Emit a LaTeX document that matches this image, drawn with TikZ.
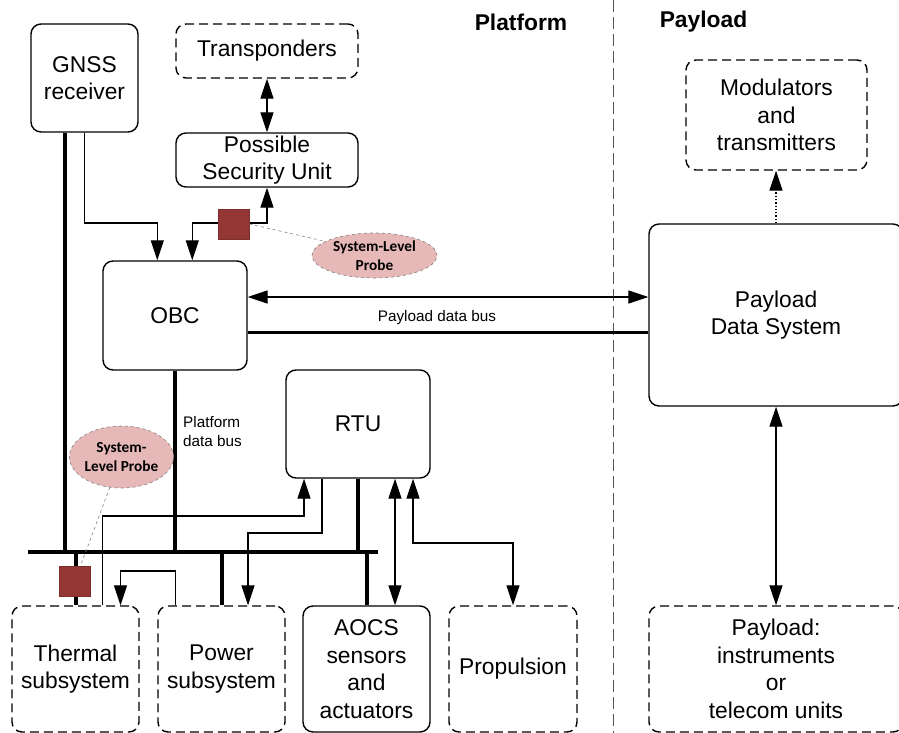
\documentclass[tikz,border=0pt]{standalone}
\usepackage{fontspec}
\setmainfont{Liberation Sans}
\newfontfamily\probefont{Carlito}
\usetikzlibrary{arrows.meta,shapes.geometric}

\definecolor{probefill}{HTML}{E6B9B8}
\definecolor{probered}{HTML}{943634}
\definecolor{divider}{HTML}{555555}

\newcommand{\bodyfont}{\fontsize{22.8}{27.5}\selectfont}
\newcommand{\smallfont}{\fontsize{15.3}{19}\selectfont}

\tikzset{
  unit/.style={draw, rounded corners=10pt, line width=1.4pt, align=center,
    inner sep=0pt, font=\bodyfont},
  optunit/.style={unit, dash pattern=on 9pt off 5pt},
  conn/.style={line width=1.3pt},
  arr/.style={conn, -{Triangle[length=20pt,width=13pt]}},
  darr/.style={conn, {Triangle[length=20pt,width=13pt]}-{Triangle[length=20pt,width=13pt]}},
  databus/.style={line width=4pt},
  probe/.style={ellipse, fill=probefill, draw=gray, dashed, line width=0.6pt,
    inner sep=0pt, align=center, font=\probefont\bfseries\smallfont},
  probelink/.style={draw=gray, dashed, line width=0.6pt},
  probebox/.style={rectangle, fill=probered, draw=probered!85!black, line width=0.6pt,
    minimum width=31pt, minimum height=30pt, inner sep=0pt},
  heading/.style={font=\bfseries\bodyfont},
  buslabel/.style={font=\smallfont, inner sep=0pt, align=left}
}

\begin{document}
\begin{tikzpicture}[x=1pt,y=-1pt]
\useasboundingbox (0,0) rectangle (899,733);
\clip (0,0) rectangle (899,733);

% platform / payload separation
\coordinate (divtop) at (613,0);
\coordinate (divbot) at (613,733);
\draw[divider, line width=0.9pt, dash pattern=on 12pt off 5pt] (divtop) -- (divbot);
\node[heading] (hplat) at (521,22) {Platform};
\node[heading] (hpay) at (703.5,22) {Payload};

% units
\node[unit, minimum width=107pt, minimum height=108pt] (gnss) at (84.5,78) {GNSS\\receiver};
\node[optunit, minimum width=182pt, minimum height=54pt] (trans) at (267,51) {Transponders};
\node[unit, minimum width=182pt, minimum height=54pt] (psu) at (267,160) {Possible\\Security Unit};
\node[unit, minimum width=144pt, minimum height=109pt] (obc) at (175,315.5) {OBC};
\node[unit, minimum width=144pt, minimum height=108pt] (rtu) at (358,424) {RTU};
\node[optunit, minimum width=181pt, minimum height=110pt] (mod) at (776.5,115) {Modulators\\and\\transmitters};
\node[unit, minimum width=254pt, minimum height=182pt] (pds) at (776,315) {Payload\\Data System};

\node[optunit, minimum width=127pt, minimum height=126pt] (therm) at (75.5,669) {Thermal\\subsystem};
\node[optunit, minimum width=127pt, minimum height=126pt] (power) at (221.5,669) {Power\\subsystem};
\node[unit, minimum width=127pt, minimum height=126pt] (aocs) at (366.5,669) {AOCS\\sensors\\and\\actuators};
\node[optunit, minimum width=128pt, minimum height=126pt] (prop) at (513,669) {Propulsion};
\node[optunit, minimum width=254pt, minimum height=126pt] (pl) at (776,669) {Payload:\\instruments\\or\\telecom units};

% levels of the routed connectors
\coordinate (lvobc) at (0,223);
\coordinate (lvth) at (0,516);
\coordinate (lvpw) at (0,533);
\coordinate (lvpr) at (0,543);
\coordinate (lvloop) at (0,571);

% transponders and security unit
\draw[darr] (trans.south) -- (psu.north);

% GNSS links
\coordinate (g1) at ([xshift=35pt]gnss.south west);
\coordinate (g2) at ([xshift=54pt]gnss.south west);
\coordinate (o1) at ([xshift=55pt]obc.north west);
\coordinate (o2) at ([xshift=90pt]obc.north west);
\draw[arr] (g2) |- (lvobc -| o1) -- (o1);
\draw[darr] (psu.south) |- (lvobc -| o2) -- (o2);

% payload links
\coordinate (a1) at ([yshift=18.5pt]obc.east);
\coordinate (a2) at ([yshift=-17pt]obc.east);
\draw[darr] (a1) -- (a1 -| pds.west);
\draw[databus, line width=3.5pt] (a2) -- (a2 -| pds.west);
\node[buslabel] (pbl) at (437,318) {Payload data bus};
\draw[arr, dotted] (pds.north) -- (pds.north |- mod.south);
\draw[darr] (pds.south) -- (pds.south |- pl.north);

% platform data bus
\coordinate (busW) at (28,552);
\coordinate (busE) at (378,552);
\draw[databus] (busW) -- (busE);
\draw[databus] (g1) -- (g1 |- busW);
\draw[databus] (obc.south) -- (obc.south |- busW);
\draw[databus] (rtu.south) -- (rtu.south |- busW);
\draw[databus] (therm.north |- busW) -- (therm.north);
\draw[databus] (power.north |- busW) -- (power.north);
\draw[databus] (aocs.north |- busW) -- (aocs.north);
\node[buslabel, anchor=north west] (pdl) at (183,416) {Platform\\data bus};

% RTU discrete links
\coordinate (t1) at ([xshift=27pt]therm.north);
\coordinate (t2) at ([xshift=45pt]therm.north);
\coordinate (pw1) at ([xshift=26.5pt]power.north);
\coordinate (pw2) at ([xshift=-46pt]power.north);
\coordinate (r1) at ([xshift=-54pt]rtu.south);
\coordinate (r2) at ([xshift=-36pt]rtu.south);
\coordinate (r3) at ([xshift=37pt]rtu.south);
\coordinate (r4) at ([xshift=55pt]rtu.south);
\draw[arr] (t1) |- (lvth -| r1) -- (r1);
\draw[arr] (r2) |- (lvpw -| pw1) -- (pw1);
\draw[arr] (pw2) |- (lvloop -| t2) -- (t2);
\draw[darr] (r3) -- (r3 |- aocs.north);
\draw[darr] (r4) |- (lvpr -| prop.north) -- (prop.north);

% system-level probes
\node[probe, minimum width=125pt, minimum height=45pt] (probe1) at (374.5,255.5) {System-Level\\Probe};
\node[probe, minimum width=91pt, minimum height=62pt] (probe2) at (121.5,457) {System-\\Level Probe};
\node[probebox] (rb1) at (233.5,224) {};
\node[probebox] (rb2) at (74.5,581) {};
\coordinate (rb2tip) at ([xshift=6pt]rb2.north);
\draw[probelink] (rb1.east) -- (probe1.164);
\draw[probelink] (probe2.249) -- (rb2tip);
\end{tikzpicture}
\end{document}
